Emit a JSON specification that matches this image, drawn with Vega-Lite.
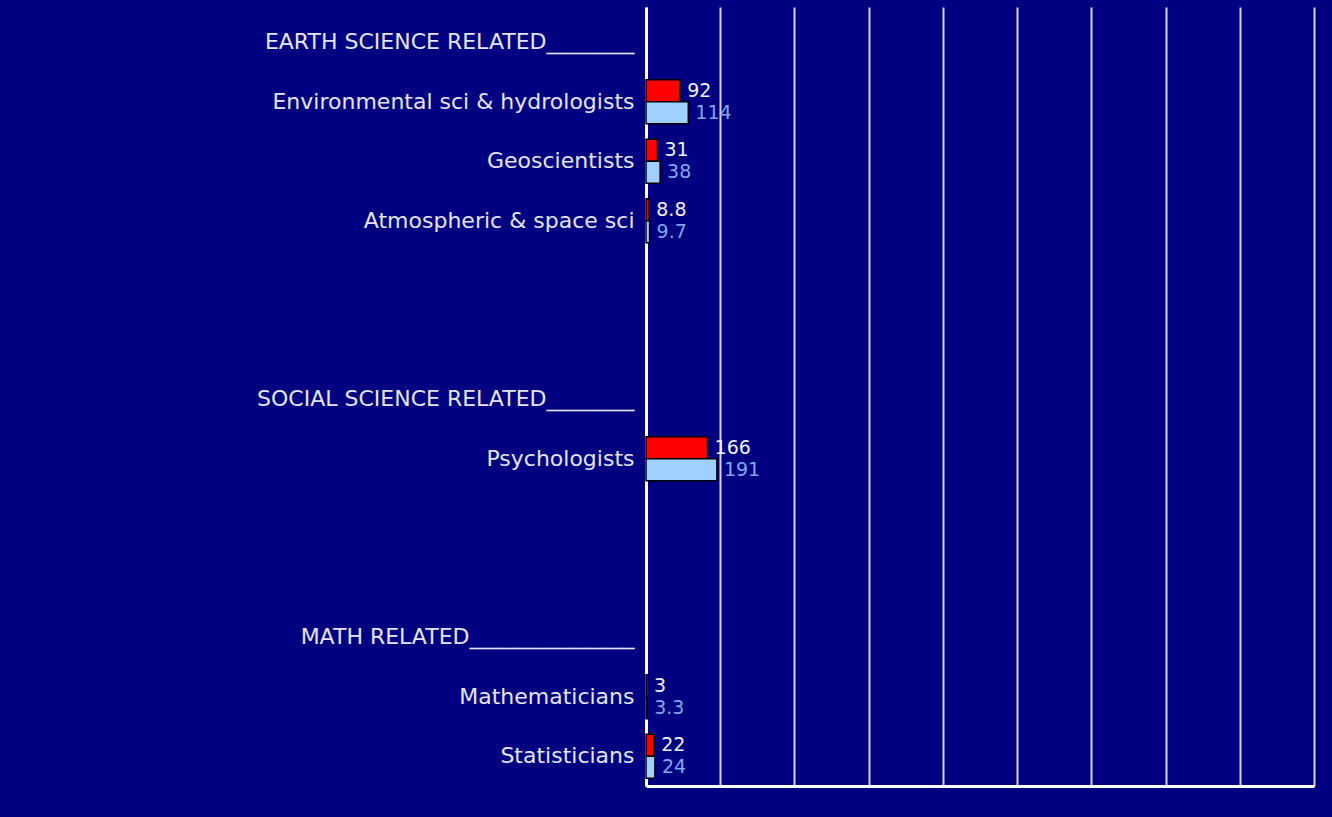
{
  "$schema": "https://vega.github.io/schema/vega-lite/v6.json",
  "width": 668,
  "height": 779,
  "autosize": {"type": "none"},
  "padding": {"left": 646, "top": 7, "right": 18, "bottom": 31},
  "background": "#000080",
  "config": {"view": {"stroke": null}, "font": "DejaVu Sans"},
  "data": {
    "values": [
      {"category": "Environmental sci & hydrologists", "series": "current", "value": 92, "label": "92"},
      {"category": "Environmental sci & hydrologists", "series": "projected", "value": 114, "label": "114"},
      {"category": "Geoscientists", "series": "current", "value": 31, "label": "31"},
      {"category": "Geoscientists", "series": "projected", "value": 38, "label": "38"},
      {"category": "Atmospheric & space sci", "series": "current", "value": 8.8, "label": "8.8"},
      {"category": "Atmospheric & space sci", "series": "projected", "value": 9.7, "label": "9.7"},
      {"category": "Psychologists", "series": "current", "value": 166, "label": "166"},
      {"category": "Psychologists", "series": "projected", "value": 191, "label": "191"},
      {"category": "Mathematicians", "series": "current", "value": 3, "label": "3"},
      {"category": "Mathematicians", "series": "projected", "value": 3.3, "label": "3.3"},
      {"category": "Statisticians", "series": "current", "value": 22, "label": "22"},
      {"category": "Statisticians", "series": "projected", "value": 24, "label": "24"}
    ]
  },
  "encoding": {
    "y": {
      "field": "category",
      "type": "nominal",
      "sort": null,
      "scale": {
        "domain": [
          "EARTH SCIENCE RELATED________",
          "Environmental sci & hydrologists",
          "Geoscientists",
          "Atmospheric & space sci",
          " ",
          "  ",
          "SOCIAL SCIENCE RELATED________",
          "Psychologists",
          "   ",
          "    ",
          "MATH RELATED_______________",
          "Mathematicians",
          "Statisticians"
        ],
        "paddingInner": 0,
        "paddingOuter": 0.046,
        "align": 1
      },
      "axis": {
        "title": null,
        "ticks": false,
        "labelPadding": 12,
        "labelFontSize": 22,
        "labelLimit": 0,
        "labelColor": "#e4e4f4",
        "labelFont": "DejaVu Sans",
        "domainColor": "#ffffff",
        "domainWidth": 3,
        "grid": false
      }
    },
    "yOffset": {
      "field": "series",
      "type": "nominal",
      "scale": {"domain": ["current", "projected"], "paddingInner": 0, "paddingOuter": 0.35}
    },
    "x": {
      "field": "value",
      "type": "quantitative",
      "scale": {"domain": [0, 1800], "nice": false},
      "axis": {
        "title": null,
        "labels": false,
        "ticks": false,
        "values": [0, 200, 400, 600, 800, 1000, 1200, 1400, 1600, 1800],
        "grid": true,
        "gridColor": "#d4d4ee",
        "gridWidth": 2,
        "gridOpacity": 1,
        "domainColor": "#ffffff",
        "domainWidth": 3
      }
    }
  },
  "layer": [
    {
      "mark": {"type": "bar", "stroke": "#000000", "strokeWidth": 1.5},
      "encoding": {
        "color": {
          "field": "series",
          "type": "nominal",
          "scale": {"domain": ["current", "projected"], "range": ["#ff0000", "#a0d0ff"]},
          "legend": null
        }
      }
    },
    {
      "mark": {"type": "text", "align": "left", "baseline": "middle", "dx": 7, "fontSize": 19, "font": "DejaVu Sans"},
      "encoding": {
        "text": {"field": "label"},
        "color": {
          "field": "series",
          "type": "nominal",
          "scale": {"domain": ["current", "projected"], "range": ["#f0f0ff", "#80a8f0"]},
          "legend": null
        }
      }
    }
  ],
  "resolve": {"scale": {"color": "independent"}}
}
